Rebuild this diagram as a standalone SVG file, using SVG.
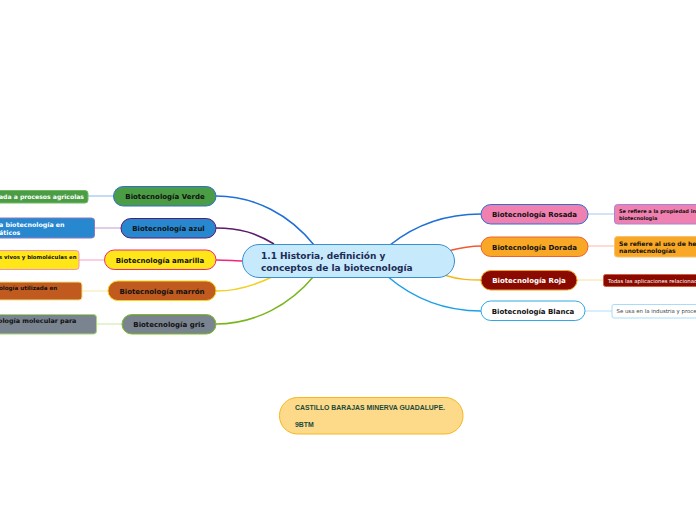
<svg xmlns="http://www.w3.org/2000/svg" width="696" height="520" viewBox="0 0 696 520">
<style>
text{font-family:"DejaVu Sans","Liberation Sans",sans-serif;font-weight:bold}
.lbl{font-size:7px;text-anchor:middle;fill:#111}
.leaf{fill:#111}
.c{fill:none;stroke-width:1.5}
.cl{fill:none;stroke-width:1}
</style>
<rect width="696" height="520" fill="#fff"/>
<g id="connectors">
<path class="c" d="M216,196 C255,196 290,215 314,245" stroke="#1f6fd6"/>
<path class="c" d="M216,228 C240,228 256,233 274,244" stroke="#5a1b6e"/>
<path class="c" d="M216,260 C228,260 235,261 244,261" stroke="#f0267a"/>
<path class="c" d="M216,291 C240,291 258,284 274,276" stroke="#f0d020"/>
<path class="c" d="M216,324 C255,324 290,305 314,276" stroke="#7ab51e"/>
<path class="c" d="M390,245 C415,225 445,214 481,214" stroke="#1f6fd6"/>
<path class="c" d="M448,251 C460,248 470,246 481,246" stroke="#f05a30"/>
<path class="c" d="M444,275 C460,280 470,280 481,280" stroke="#f5b81a"/>
<path class="c" d="M387,276 C415,300 445,311 481,311" stroke="#1aa0e8"/>
<path class="cl" d="M88,196 H114" stroke="#8ab4e8"/>
<path class="cl" d="M95,228 H121" stroke="#c49ad0"/>
<path class="cl" d="M79,260 H104" stroke="#f5a0c8"/>
<path class="cl" d="M82,291 H108" stroke="#f8eaa0"/>
<path class="cl" d="M97,324 H122" stroke="#c8e6a0"/>
<path class="cl" d="M588,214 H615" stroke="#a8c8f0"/>
<path class="cl" d="M588,246 H615" stroke="#f8b8a8"/>
<path class="cl" d="M577,280 H604" stroke="#fae0a0"/>
<path class="cl" d="M585,311 H612" stroke="#b0def8"/>
</g>
<g id="central">
<rect x="242.5" y="244.5" width="212" height="33" rx="16.5" fill="#c6eafb" stroke="#3a8fd0" stroke-width="1"/>
<text x="261" y="259" font-size="9" fill="#1d2b57">1.1 Historia, definición y</text>
<text x="261" y="271" font-size="9" fill="#1d2b57">conceptos de la biotecnología</text>
</g>
<g id="verde">
<rect x="113.5" y="186.5" width="102.5" height="19.5" rx="9.75" fill="#4a9d45" stroke="#2f6fd0"/>
<text class="lbl" x="165" y="199">Biotecnología Verde</text>
</g>
<g id="azul">
<rect x="121" y="218.5" width="95" height="19.5" rx="9.75" fill="#2787cf" stroke="#5a1b6e"/>
<text class="lbl" x="168.5" y="231">Biotecnología azul</text>
</g>
<g id="amarilla">
<rect x="104.5" y="250" width="111.5" height="19.5" rx="9.75" fill="#ffe619" stroke="#f0267a"/>
<text class="lbl" x="160" y="263">Biotecnología amarilla</text>
</g>
<g id="marron">
<rect x="108" y="281" width="108" height="19.5" rx="9.75" fill="#c05a1f" stroke="#f5d316"/>
<text class="lbl" x="162" y="294">Biotecnología marrón</text>
</g>
<g id="gris">
<rect x="122" y="314.5" width="94" height="19.5" rx="9.75" fill="#7a8490" stroke="#7cbf1e"/>
<text class="lbl" x="169" y="327">Biotecnología gris</text>
</g>
<g id="verde-leaf">
<rect x="-6" y="190.5" width="94" height="12.5" rx="3" fill="#4a9d45" stroke="#70b860"/>
<text class="leaf" x="-1" y="199" style="fill:#fff;font-size:6.1px">ada a procesos agricolas</text>
</g>
<g id="azul-leaf">
<rect x="-6" y="218" width="100.5" height="20" rx="3" fill="#2787cf" stroke="#8a7ac0"/>
<text class="leaf" x="-1" y="227" style="fill:#fff;font-size:6.3px">a biotecnología en</text>
<text class="leaf" x="-1" y="235" style="fill:#fff;font-size:6.3px">áticos</text>
</g>
<g id="amarilla-leaf">
<rect x="-6" y="250.5" width="85" height="19" rx="3" fill="#ffe619" stroke="#f590c0"/>
<text class="leaf" x="-1" y="258.5" style="font-size:5.4px">s vivos y biomoléculas en</text>
</g>
<g id="marron-leaf">
<rect x="-6" y="282" width="88" height="18" rx="3" fill="#c05a1f" stroke="#f5e080"/>
<text class="leaf" x="-1" y="289.5" style="font-size:5.6px">ología utilizada en</text>
</g>
<g id="gris-leaf">
<rect x="-6" y="314.5" width="102.5" height="19.5" rx="3" fill="#7a8490" stroke="#a8d870"/>
<text class="leaf" x="-2" y="322.5" style="font-size:6.4px">ología molecular para</text>
</g>
<g id="rosada">
<rect x="481" y="204.5" width="107" height="19.5" rx="9.75" fill="#f080b0" stroke="#2f6fd0"/>
<text class="lbl" x="534.5" y="217">Biotecnología Rosada</text>
</g>
<g id="dorada">
<rect x="481" y="237" width="107" height="19.5" rx="9.75" fill="#f9a825" stroke="#f06030"/>
<text class="lbl" x="534.5" y="249.5">Biotecnología Dorada</text>
</g>
<g id="roja">
<rect x="481" y="270.5" width="96" height="19.5" rx="9.75" fill="#8b0a00" stroke="#f0a020"/>
<text class="lbl" x="529" y="283" style="fill:#fff">Biotecnología Roja</text>
</g>
<g id="blanca">
<rect x="481" y="301" width="104" height="19.5" rx="9.75" fill="#fff" stroke="#30a8e8"/>
<text class="lbl" x="533" y="314">Biotecnología Blanca</text>
</g>
<g id="rosada-leaf">
<rect x="614.5" y="204.5" width="90" height="19.5" rx="3" fill="#f080b0" stroke="#a088d8"/>
<text class="leaf" x="619" y="213" style="font-size:5px">Se refiere a la propiedad in</text>
<text class="leaf" x="619" y="220" style="font-size:5px">biotecnologia</text>
</g>
<g id="dorada-leaf">
<rect x="614.5" y="236.5" width="90" height="20.5" rx="3" fill="#f9a825" stroke="#f8c070"/>
<text class="leaf" x="619" y="245.5" style="font-size:6.1px">Se refiere al uso de her</text>
<text class="leaf" x="619" y="253" style="font-size:6.1px">nanotecnologías</text>
</g>
<g id="roja-leaf">
<rect x="603.5" y="274.5" width="100" height="12" rx="2" fill="#8b0a00" stroke="#d06040"/>
<text class="leaf" x="608" y="282.5" style="fill:#fff;font-weight:normal;font-size:5.4px">Todas las aplicaciones relacionad</text>
</g>
<g id="blanca-leaf">
<rect x="612" y="304.5" width="95" height="13.5" rx="2" fill="#fff" stroke="#a8dcf8"/>
<text class="leaf" x="616.5" y="313" style="fill:#444;font-weight:normal;font-size:5.4px">Se usa en la industria y proce</text>
</g>
<g id="autor">
<rect x="279.5" y="397.5" width="183.5" height="36.5" rx="18" fill="#fdd98a" stroke="#f5b820"/>
<text x="295" y="410" style="fill:#1a4a3a;font-family:'Liberation Sans',sans-serif;font-size:6.9px">CASTILLO BARAJAS MINERVA GUADALUPE.</text>
<text x="295" y="427" style="fill:#1a4a3a;font-family:'Liberation Sans',sans-serif;font-size:6.9px">9BTM</text>
</g>
</svg>
